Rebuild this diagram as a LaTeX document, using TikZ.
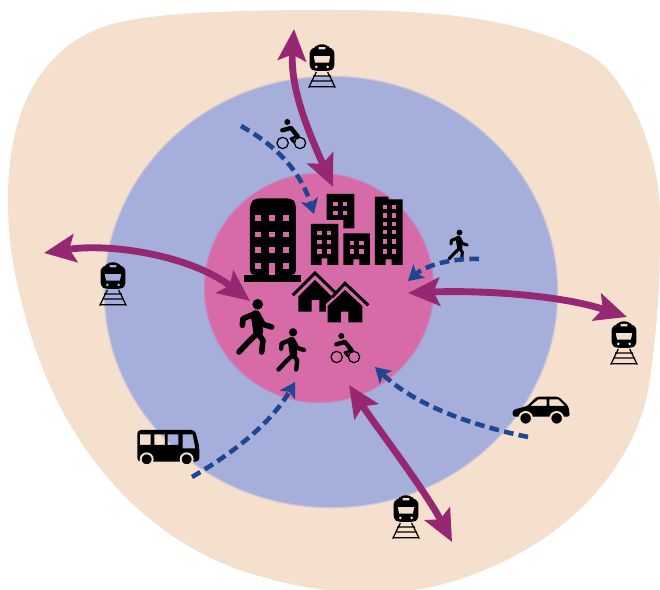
\documentclass[tikz,border=0pt]{standalone}
\usepackage{xcolor}
\usetikzlibrary{arrows.meta, positioning}
\definecolor{zonebeige}{RGB}{245,223,205}
\definecolor{zoneblue}{RGB}{166,175,219}
\definecolor{zonepink}{RGB}{214,107,168}
\definecolor{railpurple}{RGB}{150,40,115}
\definecolor{activeblue}{RGB}{31,70,144}
\tikzset{
    railarrow/.style={draw=railpurple, line width=3.9pt,
        {Stealth[length=18pt, width=16pt, inset=3.5pt]}-{Stealth[length=18pt, width=16pt, inset=3.5pt]}},
    activearrow/.style={draw=activeblue, line width=2.6pt, dash pattern=on 5.5pt off 3pt,
        -{Stealth[length=8.5pt, width=10pt, inset=2pt]}},
    softedge/.style={draw=#1, draw opacity=0.5, line width=1.5pt},
    pics/railicon/.style={code={
        \begin{scope}[scale=0.3333]
            \fill[black, even odd rule, rounded corners=2pt] (-15,-65) -- (15,-65) -- (22,-52) -- (37,-50) -- (37,8) -- (22,15) -- (-22,15) -- (-37,8) -- (-37,-50) -- (-22,-52) -- cycle
                [sharp corners] (-25,-30) -- (25,-30) -- (21,-10) -- (-21,-10) -- cycle
                (-10,-57) rectangle (10,-50)
                (-17,3) circle (5) (17,3) circle (5);
            \draw[black, line width=0.7pt] (-17,18) -- (-40,65) (17,18) -- (40,65)
                (-27,30) -- (27,30) (-33,45) -- (33,45) (-40,62) -- (40,62);
        \end{scope}
    }},
    pics/cycleicon/.style={code={
        \begin{scope}[scale=0.3333]
            \draw[black, line width=0.7pt] (-25,30) circle (17) (27,30) circle (17);
            \fill[black] (-11,-33) circle (9);
            \draw[black, line width=2.5pt, line cap=round, line join=round] (-26,-8) -- (0,-15) -- (20,10);
            \draw[black, line width=1.6pt, line cap=round, line join=round] (20,10) -- (0,17) -- (10,28);
        \end{scope}
    }},
    pics/walkicon/.style={code={
        \begin{scope}[scale=0.3333]
            \fill[black] (8,-68) circle (16);
            \draw[black, line width=#1*5.6pt, line cap=round] (2,-36) -- (10,15);
            \draw[black, line width=#1*3.2pt, line cap=round, line join=round]
                (-4,-38) -- (-36,-25) -- (-38,-5)
                (8,-38) -- (24,-8) -- (50,0)
                (8,18) -- (-20,45) -- (-48,75)
                (8,18) -- (24,40) -- (20,75);
        \end{scope}
    }}
}

\begin{document}
\begin{tikzpicture}[x=0.02cm, y=-0.02cm]
    \useasboundingbox (0,0) rectangle (660,590);

    % Zones
    \fill[zonebeige] (8,200) .. controls (8,110) and (40,52) .. (100,28)
        .. controls (140,12) and (240,10) .. (330,10)
        .. controls (420,10) and (520,15) .. (590,55)
        .. controls (625,75) and (660,150) .. (660,215)
        .. controls (660,260) and (660,310) .. (650,378)
        .. controls (640,460) and (570,550) .. (440,585)
        .. controls (400,596) and (320,595) .. (267,578)
        .. controls (170,555) and (60,470) .. (20,295)
        .. controls (12,265) and (8,235) .. (8,200) -- cycle;
    \fill[zoneblue] (331,292) ellipse (226 and 215);
    \draw[softedge=zoneblue] (331,292) ellipse (226 and 215);
    \fill[zonepink] (319,288) circle (114);
    \draw[softedge=zonepink] (319,288) circle (114);

    % Tall block
    \begin{scope}[shift={(220,180)}, scale=0.3333]
        \fill[black, rounded corners=2.5pt] (90,285) -- (90,70) -- (105,55) -- (215,55) -- (228,70) -- (228,285) -- cycle;
        \fill[black] (72,285) rectangle (242,307);
        \foreach \wx in {105,148,190} {
            \foreach \wy in {105,155,202} {
                \fill[zonepink] (\wx,\wy) rectangle ++(17,17);
            }
        }
        \fill[zonepink] (105,250) rectangle ++(17,18);
        \fill[zonepink] (148,250) rectangle ++(17,35);
        \fill[zonepink] (190,250) rectangle ++(17,18);

        % Small blocks
        \fill[black] (320,42) -- (403,42) -- (403,145) -- (370,145) -- (370,120) -- (320,120) -- cycle;
        \fill[black] (273,132) -- (355,132) -- (355,255) -- (322,255) -- (322,235) -- (305,235) -- (305,255) -- (273,255) -- cycle;
        \fill[black] (370,160) -- (450,160) -- (450,255) -- (418,255) -- (418,238) -- (400,238) -- (400,255) -- (370,255) -- cycle;
        \fill[black] (465,50) -- (505,50) -- (505,58) -- (548,58) -- (548,255) -- (515,255) -- (515,238) -- (497,238) -- (497,255) -- (465,255) -- cycle;
        \foreach \wx/\wy in {340/65, 368/65, 340/92, 368/92,
            292/152, 320/152, 292/180, 320/180, 292/208, 320/208,
            390/182, 418/182, 390/208, 418/208,
            488/75, 515/75, 488/100, 515/100, 488/125, 515/125,
            488/150, 515/150, 488/178, 515/178, 488/208, 515/208} {
            \fill[zonepink] (\wx,\wy) rectangle ++(13,13);
        }

        % Houses
        \fill[black] (285,300) -- (335,350) -- (335,395) -- (298,395) -- (298,360) -- (275,360) -- (275,395) -- (235,395) -- (235,350) -- cycle;
        \draw[black, line width=1.7pt] (218,346) -- (285,279) -- (345,337);
        \fill[zonepink] (318,372) -- (375,322) -- (435,380) -- (435,440) -- (318,440) -- cycle;
        \fill[black] (375,330) -- (427,378) -- (427,427) -- (385,427) -- (385,395) -- (363,395) -- (363,427) -- (323,427) -- (323,378) -- cycle;
        \draw[black, line width=1.7pt] (336,352) -- (375,310) -- (445,376);
    \end{scope}

    % Bus
    \begin{scope}[shift={(120,380)}, scale=0.3333]
        \fill[black, even odd rule, rounded corners=2pt] (52,150) -- (225,150) -- (238,200) -- (238,245) -- (52,245) -- cycle
            [sharp corners] (60,163) rectangle (92,195) (103,163) rectangle (135,195)
            (143,163) rectangle (175,195) (188,163) -- (218,163) -- (226,205) -- (188,205) -- cycle;
        \fill[black, draw=zonebeige, line width=1.1pt] (80,238) circle (18) (200,238) circle (18);
    \end{scope}

    % Car
    \begin{scope}[shift={(490,300)}, scale=0.3333]
        \fill[black, even odd rule, rounded corners=1.5pt] (68,350) -- (68,330) -- (112,318) -- (140,290) -- (206,290) -- (235,318) -- (240,350) -- cycle
            [sharp corners] (120,318) -- (145,298) -- (170,298) -- (170,318) -- cycle
            (178,298) -- (205,298) -- (225,318) -- (178,318) -- cycle;
        \fill[black, draw=zonebeige, line width=1.1pt] (107,355) circle (19) (200,355) circle (19);
    \end{scope}

    % Trains
    \foreach \px/\py/\nm in {322/66/tn, 113/284/tw, 624/343/te, 406/517/ts} {
        \pic (\nm) at (\px,\py) {railicon};
    }

    % Cyclists and walkers
    \pic (cyclenorth) at (291,133) {cycleicon};
    \pic (cyclecentre) at (345,347) {cycleicon};
    \pic[scale=1] (walkbig) at (255,327) {walkicon=1};
    \pic[scale=0.78] (walkmid) at (291,350) {walkicon=0.78};
    \pic[scale=0.55] (walkeast) at (458,245) {walkicon=0.55};

    % Arrow ends
    \coordinate (northout) at (294,29);
    \coordinate (northin) at (333,187);
    \coordinate (westout) at (44,253);
    \coordinate (westin) at (250,301);
    \coordinate (eastin) at (408,293);
    \coordinate (eastout) at (627,317);
    \coordinate (southin) at (349,385);
    \coordinate (southout) at (452,542);
    \coordinate (cyclefrom) at (241,126);
    \coordinate (cycleto) at (314,214);
    \coordinate (walkfrom) at (479,259);
    \coordinate (walkto) at (408,281);
    \coordinate (carfrom) at (528,437);
    \coordinate (carto) at (375,367);
    \coordinate (busfrom) at (192,477);
    \coordinate (busto) at (295,382);

    % Rail lines
    \draw[railarrow] (northout) .. controls (290,90) and (310,135) .. (northin);
    \draw[railarrow] (westout) .. controls (110,243) and (190,255) .. (westin);
    \draw[railarrow] (eastin) .. controls (480,290) and (560,295) .. (eastout);
    \draw[railarrow] (southin) .. controls (375,425) and (425,490) .. (southout);

    % Active and road links
    \draw[activearrow] (cyclefrom) .. controls (275,145) and (300,170) .. (cycleto);
    \draw[activearrow] (walkfrom) .. controls (450,258) and (425,266) .. (walkto);
    \draw[activearrow] (carfrom) .. controls (470,425) and (415,405) .. (carto);
    \draw[activearrow] (busfrom) .. controls (230,455) and (270,425) .. (busto);
\end{tikzpicture}
\end{document}
